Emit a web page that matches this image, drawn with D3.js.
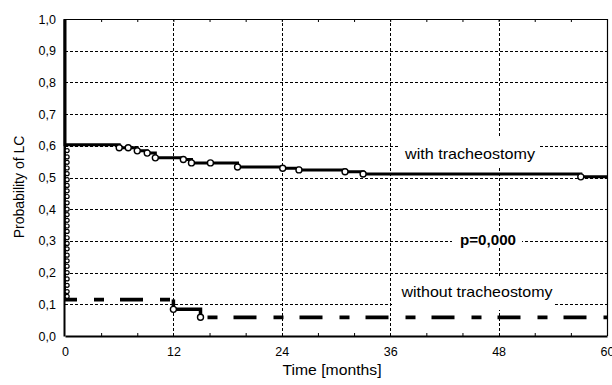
<!DOCTYPE html>
<html><head><meta charset="utf-8">
<script src="https://cdn.jsdelivr.net/npm/d3@7"></script>
<style>
body{margin:0;background:#fff}
svg{display:block}
text{font-family:"Liberation Sans",Arial,sans-serif;fill:#000}
</style>
</head><body>
<svg id="c" width="612" height="385"></svg>
<script>
// ---- data ----
const xTickValues = [0, 12, 24, 36, 48, 60];
const xTickLabels = ["0", "12", "24", "36", "48", "60"];
const minorXTicks = [4, 8, 16, 20, 28, 32, 40, 44, 52, 56];
const yTickValues = [0, 0.1, 0.2, 0.3, 0.4, 0.5, 0.6, 0.7, 0.8, 0.9, 1.0];
const yTickLabels = ["0,0","0,1","0,2","0,3","0,4","0,5","0,6","0,7","0,8","0,9","1,0"];
const gridX = [12, 24, 36, 48];
const gridY = [0.1, 0.2, 0.3, 0.4, 0.5, 0.6, 0.7, 0.8, 0.9];

// with tracheostomy (step curve)
const withTimes = [0, 0, 6.0, 8.0, 9.1, 10.0, 13.1, 14.0, 19.1, 24.1, 25.9, 31.0, 33.0, 57.1, 60];
const withSurv  = [1.0, 0.603, 0.594, 0.584, 0.577, 0.562, 0.557, 0.546, 0.533, 0.529, 0.524, 0.518, 0.511, 0.502, 0.502];
const withCensorTimes = [6.0, 7.0, 8.0, 9.1, 10.0, 13.1, 14.0, 16.1, 19.1, 24.1, 25.9, 31.0, 33.0, 57.1];
const withCensorSurv  = [0.594, 0.594, 0.584, 0.577, 0.562, 0.557, 0.546, 0.546, 0.533, 0.529, 0.524, 0.518, 0.511, 0.502];
const earlyCensorTime = 0.18;
const earlyCensorSurv = [0.585,0.565,0.548,0.530,0.512,0.493,0.475,0.458,0.440,0.420,0.400,0.383,0.365,0.347,0.330,0.310,0.292,0.275,0.255,0.237,0.220,0.200,0.180,0.160,0.140,0.125];

// without tracheostomy
const withoutTimes = [0, 12, 12, 15, 15, 60];
const withoutSurv  = [0.115, 0.115, 0.084, 0.084, 0.059, 0.059];
const withoutCensorTimes = [12, 15];
const withoutCensorSurv  = [0.084, 0.059];

const labels = {
  with: "with tracheostomy",
  without: "without tracheostomy",
  p: "p=0,000",
  xTitle: "Time [months]",
  yTitle: "Probability of LC"
};

// ---- drawing ----
const svg = d3.select("#c");
const x = d3.scaleLinear().domain([0, 60]).range([65, 607]);
const y = d3.scaleLinear().domain([0, 1]).range([336, 19]);
const px = v => Math.round(v) + 0.5;

// gridlines
const grid = svg.append("g").attr("stroke", "#000").attr("stroke-width", 1).attr("stroke-dasharray", "3,2");
grid.selectAll(".gy").data(gridY).join("line")
  .attr("x1", x(0)).attr("x2", x(60)).attr("y1", d => px(y(d))).attr("y2", d => px(y(d)));
grid.selectAll(".gx").data(gridX).join("line")
  .attr("x1", d => px(x(d))).attr("x2", d => px(x(d))).attr("y1", y(0)).attr("y2", y(1));

// borders
svg.append("line").attr("x1", x(0)).attr("x2", x(60)).attr("y1", px(y(1))).attr("y2", px(y(1))).attr("stroke", "#000").attr("stroke-width", 1.2);
svg.append("line").attr("x1", px(x(60))).attr("x2", px(x(60))).attr("y1", y(1)).attr("y2", y(0)).attr("stroke", "#000").attr("stroke-width", 1.2);

// axes
const xAxis = svg.append("g").attr("transform", `translate(0,${y(0)})`)
  .call(d3.axisBottom(x).tickValues(xTickValues).tickFormat((d, i) => xTickLabels[i]).tickSize(0).tickPadding(11));
xAxis.select(".domain").attr("stroke-width", 2);
xAxis.selectAll("text").attr("font-size", 12.5).attr("font-family", "Liberation Sans, Arial, sans-serif");

svg.append("g").attr("transform", `translate(0,${y(0)})`)
  .call(d3.axisBottom(x).tickValues(minorXTicks).tickSize(-3).tickFormat(""))
  .call(g => g.select(".domain").remove());
svg.append("g").attr("transform", `translate(0,${y(1)})`)
  .call(d3.axisTop(x).tickValues(minorXTicks.concat(xTickValues)).tickSize(-3).tickFormat(""))
  .call(g => g.select(".domain").remove());

const yAxis = svg.append("g").attr("transform", `translate(${x(0) - 1},0)`)
  .call(d3.axisLeft(y).tickValues(yTickValues).tickFormat((d, i) => yTickLabels[i]).tickSize(0).tickPadding(8));
yAxis.select(".domain").attr("stroke-width", 2);
yAxis.selectAll("text").attr("font-size", 12.5).attr("font-family", "Liberation Sans, Arial, sans-serif");

// axis titles
svg.append("text").attr("x", 332).attr("y", 375).attr("text-anchor", "middle")
  .attr("font-size", 15).attr("textLength", 99).attr("lengthAdjust", "spacingAndGlyphs").text(labels.xTitle);
svg.append("text").attr("transform", "translate(24,187) rotate(-90)").attr("text-anchor", "middle")
  .attr("font-size", 14).text(labels.yTitle);

// text labels with white background
function boxLabel(x0, y0, w, h, cx, by, txt, size, weight, len) {
  svg.append("rect").attr("x", x0).attr("y", y0).attr("width", w).attr("height", h).attr("fill", "#fff");
  const t = svg.append("text").attr("x", cx).attr("y", by).attr("text-anchor", "middle")
    .attr("font-size", size).attr("font-weight", weight).text(txt);
  if (len) t.attr("textLength", len).attr("lengthAdjust", "spacingAndGlyphs");
}
boxLabel(398, 136, 140, 30, 470, 159, labels.with, 15, "normal", 130);
boxLabel(452, 231, 70, 17, 488, 245, labels.p, 14, "bold", 56);
boxLabel(392, 278, 163, 32, 477, 297, labels.without, 15, "normal", 151);

// with tracheostomy curve
const line = d3.line().x(d => x(d[0])).y(d => y(d[1])).curve(d3.curveStepAfter);
const withPts = withTimes.map((t, i) => [t, withSurv[i]]);
svg.append("path").attr("d", line(withPts)).attr("fill", "none").attr("stroke", "#000").attr("stroke-width", 3);

// without tracheostomy curve
const woPts = withoutTimes.map((t, i) => [t, withoutSurv[i]]);
svg.append("line").attr("x1", x(0)).attr("x2", x(0)).attr("y1", y(1)).attr("y2", y(withoutSurv[0]))
  .attr("stroke", "#000").attr("stroke-width", 2);
svg.append("path").attr("d", line(woPts.slice(0, 2))).attr("fill", "none").attr("stroke", "#000")
  .attr("stroke-width", 3.8).attr("stroke-dasharray", "23,17,10,16").attr("stroke-dashoffset", 11);
svg.append("path").attr("d", line(woPts.slice(1, 5))).attr("fill", "none").attr("stroke", "#000")
  .attr("stroke-width", 3.5);
svg.append("path").attr("d", line(woPts.slice(4))).attr("fill", "none").attr("stroke", "#000")
  .attr("stroke-width", 3.8).attr("stroke-dasharray", "10,16,23,17").attr("stroke-dashoffset", 59);

// censor marks
svg.append("g").selectAll("circle").data(earlyCensorSurv).join("circle")
  .attr("cx", x(earlyCensorTime) + 0.5).attr("cy", d => y(d)).attr("r", 2)
  .attr("fill", "#fff").attr("stroke", "#000").attr("stroke-width", 1.2);
svg.append("g").selectAll("circle").data(withCensorTimes.map((t, i) => [t, withCensorSurv[i]])).join("circle")
  .attr("cx", d => x(d[0])).attr("cy", d => y(d[1])).attr("r", 3)
  .attr("fill", "#fff").attr("stroke", "#000").attr("stroke-width", 1.4);
svg.append("g").selectAll("circle").data(withoutCensorTimes.map((t, i) => [t, withoutCensorSurv[i]])).join("circle")
  .attr("cx", d => x(d[0])).attr("cy", d => y(d[1])).attr("r", 3)
  .attr("fill", "#fff").attr("stroke", "#000").attr("stroke-width", 1.4);
</script>
</body></html>
